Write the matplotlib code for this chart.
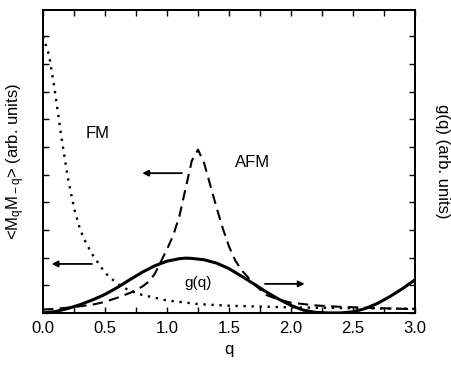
import matplotlib
matplotlib.use("Agg")
import matplotlib.pyplot as plt
from matplotlib.ticker import MultipleLocator

plt.rcParams['font.family'] = ['Liberation Sans', 'DejaVu Sans']
plt.rcParams['mathtext.fontset'] = 'custom'
plt.rcParams['mathtext.rm'] = 'Liberation Sans'
plt.rcParams['mathtext.it'] = 'Liberation Sans'

# FM correlation (dotted)
q_fm = [0.0, 0.05, 0.1, 0.15, 0.2, 0.25, 0.3, 0.35, 0.4, 0.5, 0.6, 0.7, 0.8,
        1.0, 1.25, 1.5, 2.0, 2.5, 3.0]
m_fm = [10.0, 9.3, 7.9, 6.3, 4.9, 3.8, 3.0, 2.5, 2.1, 1.45, 1.05, 0.8, 0.65,
        0.45, 0.32, 0.26, 0.2, 0.17, 0.15]

# AFM correlation (dashed)
q_afm = [0.0, 0.1, 0.2, 0.3, 0.4, 0.5, 0.6, 0.7, 0.8, 0.85, 0.9, 0.95, 1.0,
         1.05, 1.1, 1.15, 1.2, 1.25, 1.3, 1.35, 1.4, 1.45, 1.5, 1.55, 1.6,
         1.7, 1.8, 1.9, 2.0, 2.2, 2.4, 2.6, 2.8, 3.0]
m_afm = [0.12, 0.15, 0.19, 0.24, 0.3, 0.4, 0.55, 0.72, 0.95, 1.12, 1.4, 1.85,
         2.3, 2.8, 3.5, 4.5, 5.5, 5.9, 5.4, 4.6, 3.8, 3.05, 2.4, 1.9, 1.55,
         1.05, 0.65, 0.48, 0.37, 0.27, 0.22, 0.19, 0.16, 0.14]

# g(q) (solid, right axis)
q_g = [0.0, 0.1, 0.2, 0.3, 0.4, 0.5, 0.6, 0.7, 0.8, 0.9, 1.0, 1.1, 1.15, 1.2,
       1.3, 1.4, 1.5, 1.6, 1.7, 1.8, 1.9, 2.0, 2.1, 2.2, 2.3, 2.4, 2.5, 2.6,
       2.7, 2.8, 2.9, 3.0]
g_vals = [0.0, 0.05, 0.16, 0.3, 0.47, 0.67, 0.92, 1.2, 1.47, 1.7, 1.87, 1.96,
          1.98, 1.97, 1.92, 1.8, 1.6, 1.33, 1.05, 0.76, 0.5, 0.27, 0.1, 0.02,
          0.0, 0.0, 0.04, 0.16, 0.35, 0.6, 0.88, 1.2]

xtick_vals = [0.0, 0.5, 1.0, 1.5, 2.0, 2.5, 3.0]
xtick_labels = ['0.0', '0.5', '1.0', '1.5', '2.0', '2.5', '3.0']

fig = plt.figure(figsize=(4.51, 3.66), dpi=100)
ax = fig.add_axes([0.0953, 0.145, 0.825, 0.828])
ax2 = ax.twinx()

ax.plot(q_fm, m_fm, color='black', lw=1.7, linestyle=(0, (1, 2.4)))
ax.plot(q_afm, m_afm, color='black', lw=1.5, linestyle=(0, (5, 3)))
ax2.plot(q_g, g_vals, color='black', lw=2.2)

ymax = 10.95
for a in (ax, ax2):
    a.set_xlim(0, 3.0)
    a.set_ylim(0, ymax)
    a.yaxis.set_major_locator(MultipleLocator(1))
    a.set_yticklabels([])
    a.tick_params(axis='both', which='both', direction='in', length=4, width=1)
    for s in a.spines.values():
        s.set_linewidth(1.3)

ax.set_xticks(xtick_vals)
ax.set_xticklabels(xtick_labels, fontsize=12)
ax.xaxis.set_minor_locator(MultipleLocator(0.25))
ax.tick_params(axis='x', which='both', top=True, pad=6)
ax.tick_params(axis='y', which='both', left=True, right=False)
ax2.tick_params(axis='y', which='both', right=True, left=False)

ax.set_xlabel('q', fontsize=12, labelpad=4)
ax.set_ylabel(r'<M$_{\rm q}$M$_{\rm -q}$> (arb. units)', fontsize=12, labelpad=8)
ax2.set_ylabel('g(q) (arb. units)', fontsize=12, rotation=-90, labelpad=22)

ax.text(0.44, 6.5, 'FM', fontsize=12, ha='center', va='center')
ax.text(1.69, 5.45, 'AFM', fontsize=12, ha='center', va='center')
ax.text(1.25, 1.08, 'g(q)', fontsize=11, ha='center', va='center')

arrow = dict(arrowstyle='-|>', color='black', lw=1.3, mutation_scale=9,
             shrinkA=0, shrinkB=0)
ax.annotate('', xy=(0.80, 5.05), xytext=(1.12, 5.05), arrowprops=arrow)
ax.annotate('', xy=(0.07, 1.77), xytext=(0.395, 1.77), arrowprops=arrow)
ax.annotate('', xy=(2.11, 1.05), xytext=(1.79, 1.05), arrowprops=arrow)

fig.savefig('out.png', dpi=100)
